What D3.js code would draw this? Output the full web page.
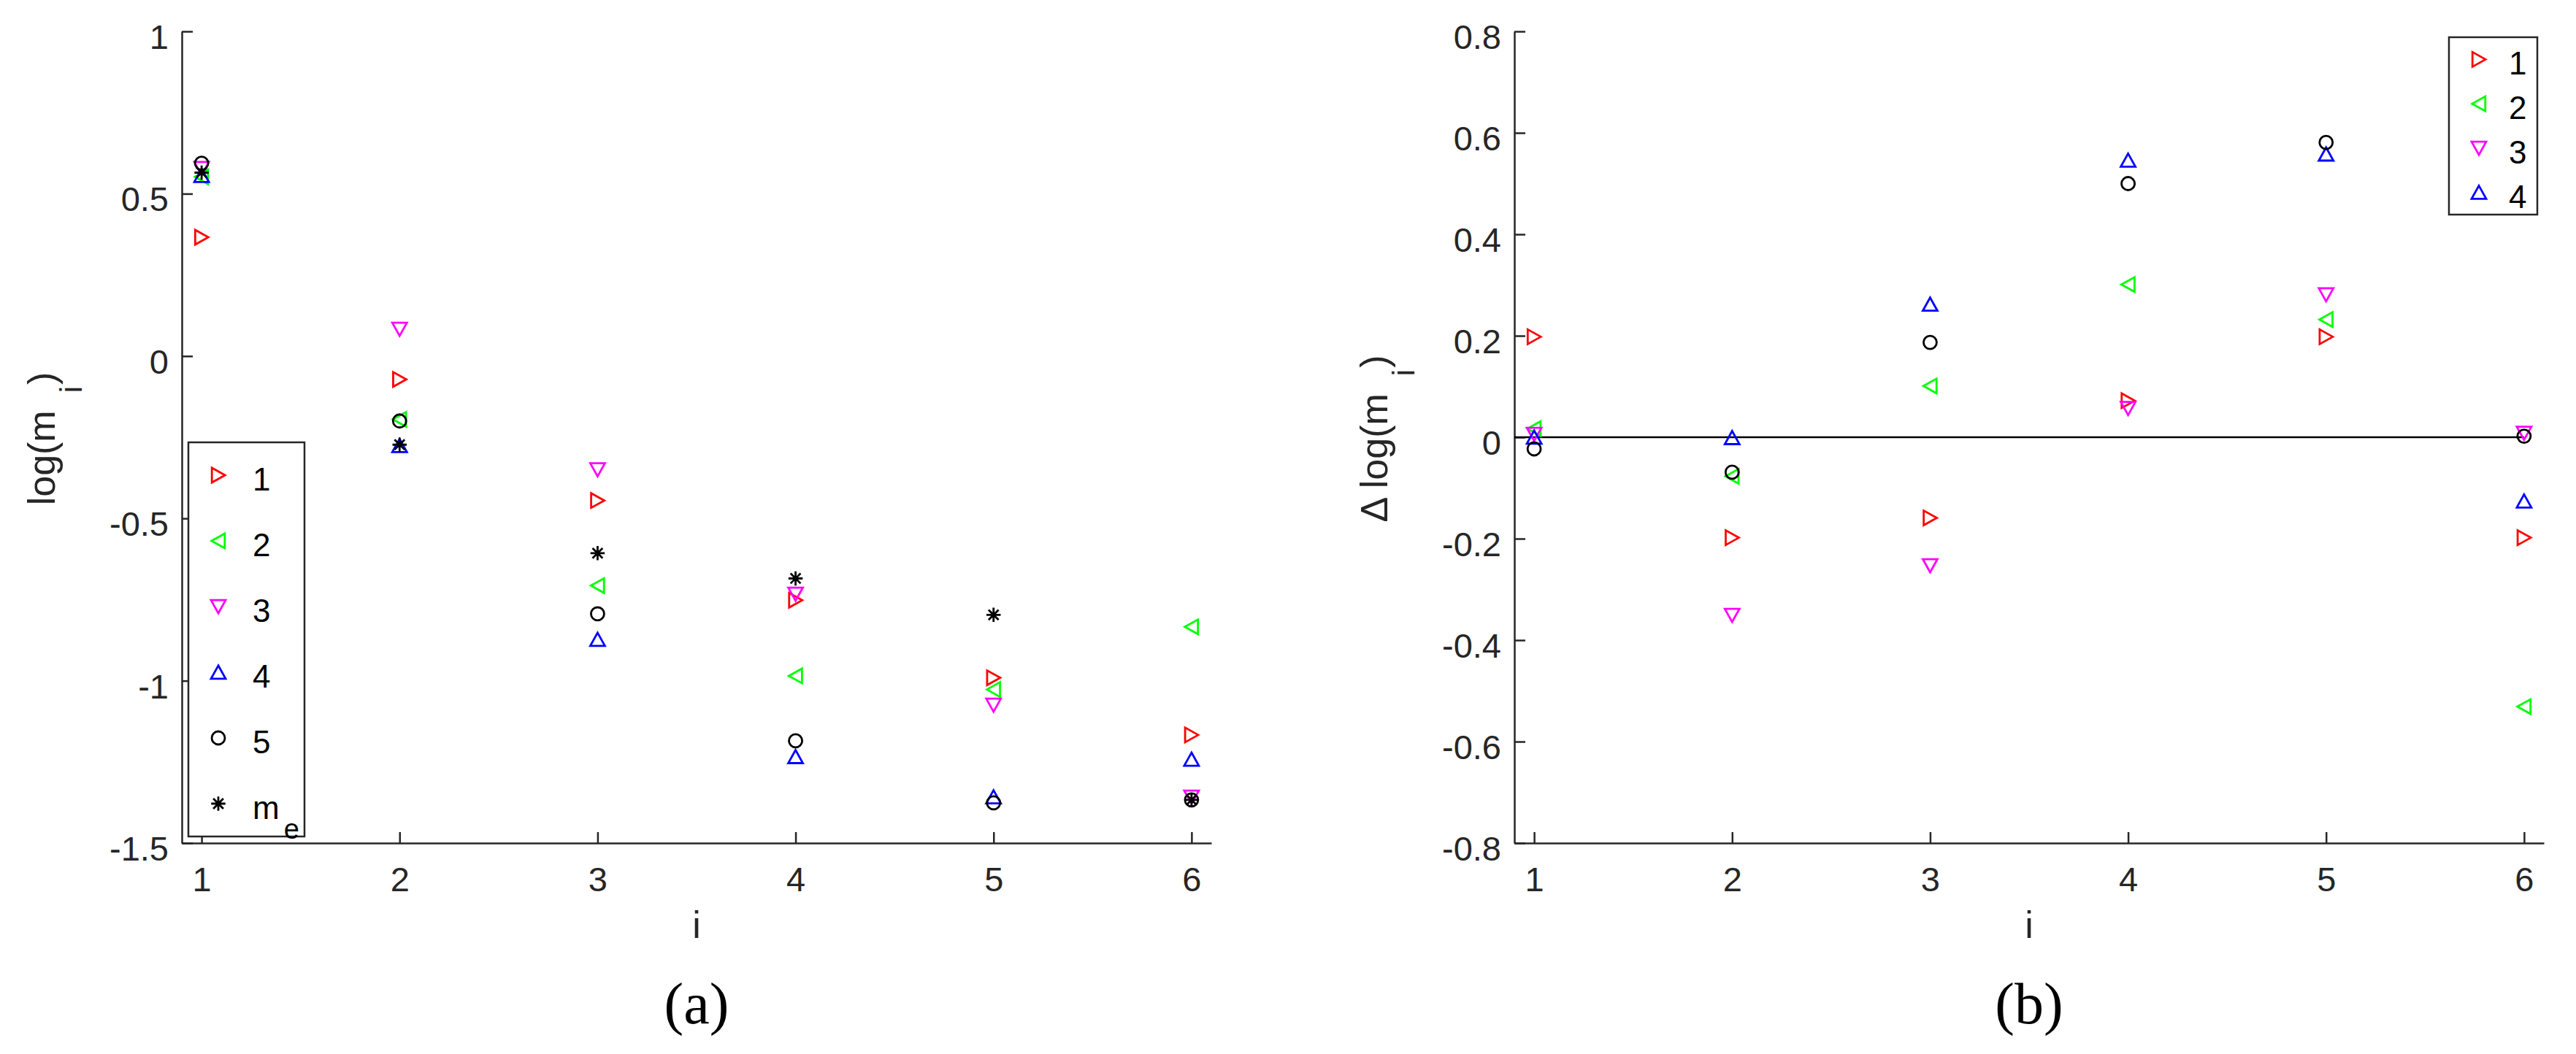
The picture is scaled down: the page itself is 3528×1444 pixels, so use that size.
<!DOCTYPE html>
<html>
<head>
<meta charset="utf-8">
<script src="https://cdn.jsdelivr.net/npm/d3@7"></script>
<style>
  body { margin: 0; background: #fff; }
  svg { display: block; font-family: 'Liberation Sans', Arial, sans-serif; }
  .axis path, .axis line { stroke: #262626; stroke-width: 2.5; }
  .axis text { fill: #262626; font-size: 47px; font-family: 'Liberation Sans', Arial, sans-serif; }
  .axis-title { fill: #262626; font-size: 52px; }
  .panel-tag { fill: #000; font-size: 80px; font-family: 'Liberation Serif', 'Times New Roman', serif; }
  .legend-box { fill: #fff; stroke: #262626; stroke-width: 2.5; }
  .legend-text { fill: #000; font-size: 44px; }
</style>
</head>
<body>
<svg id="chart"></svg>
<script>
// ---- data ----
const iValues = [1, 2, 3, 4, 5, 6];
const xTicks = [1, 2, 3, 4, 5, 6];
const leftYTicks = [-1.5, -1, -0.5, 0, 0.5, 1];
const rightYTicks = [-0.8, -0.6, -0.4, -0.2, 0, 0.2, 0.4, 0.6, 0.8];

// (a) log(m_i)
const logM1 = [0.366, -0.072, -0.445, -0.752, -0.991, -1.167];
const logM2 = [0.552, -0.195, -0.707, -0.985, -1.027, -0.834];
const logM3 = [0.578, 0.083, -0.350, -0.733, -1.075, -1.358];
const logM4 = [0.556, -0.276, -0.873, -1.234, -1.358, -1.242];
const logM5 = [0.594, -0.200, -0.794, -1.185, -1.376, -1.367];
const logMe = [0.565, -0.273, -0.607, -0.685, -0.797, -1.367];

// (b) delta log(m_i)
const dLogM1 = [0.198, -0.198, -0.159, 0.072, 0.198, -0.198];
const dLogM2 = [0.017, -0.077, 0.101, 0.301, 0.232, -0.531];
const dLogM3 = [0.006, -0.351, -0.253, 0.057, 0.281, 0.008];
const dLogM4 = [0.000, -0.001, 0.262, 0.546, 0.558, -0.126];
const dLogM5 = [-0.023, -0.069, 0.187, 0.500, 0.581, 0.002];

const zeroLineI = [0.9, 6];

// ---- marker shapes (matlab style) ----
const triangle = {
  draw(context, size) {
    const s = Math.sqrt(size);
    context.moveTo(0, -0.46 * s);
    context.lineTo(0.5 * s, 0.44 * s);
    context.lineTo(-0.5 * s, 0.44 * s);
    context.closePath();
  }
};
const asterisk = {
  draw(context, size) {
    const r = Math.sqrt(size) / 2, d = r * 0.7071;
    context.moveTo(0, -r); context.lineTo(0, r);
    context.moveTo(-r, 0); context.lineTo(r, 0);
    context.moveTo(-d, -d); context.lineTo(d, d);
    context.moveTo(-d, d); context.lineTo(d, -d);
  }
};
const markers = {
  right:  { type: triangle, size: 400, rotate: 90 },
  left:   { type: triangle, size: 400, rotate: -90 },
  down:   { type: triangle, size: 400, rotate: 180 },
  up:     { type: triangle, size: 400, rotate: 0 },
  circle: { type: d3.symbolCircle, size: 254, rotate: 0 },
  star:   { type: asterisk, size: 380, rotate: 0 }
};

class MarkerChart {

  constructor(_config, series) {
    this.config = {
      parentElement: _config.parentElement,
      left: _config.left,
      top: 43,
      width: 1410,
      height: 1112,
      xDomain: [0.9, 6.1],
      yDomain: _config.yDomain,
      yTicks: _config.yTicks,
      yLabel: _config.yLabel,
      tag: _config.tag,
      legend: _config.legend,
      zeroLine: _config.zeroLine
    };
    this.series = series;
    this.initVis();
  }

  initVis() {
    let vis = this;
    const c = vis.config;

    vis.xScale = d3.scaleLinear().domain(c.xDomain).range([0, c.width]);
    vis.yScale = d3.scaleLinear().domain(c.yDomain).range([c.height, 0]);

    vis.xAxis = d3.axisBottom(vis.xScale)
      .tickValues(xTicks)
      .tickSizeInner(-15)
      .tickSizeOuter(0)
      .tickPadding(33)
      .tickFormat(d => String(d));

    vis.yAxis = d3.axisLeft(vis.yScale)
      .tickValues(c.yTicks)
      .tickSizeInner(-15)
      .tickSizeOuter(0)
      .tickPadding(18)
      .tickFormat(d => String(d));

    vis.chart = d3.select(c.parentElement).append('g')
      .attr('transform', `translate(${c.left},${c.top})`);

    vis.xAxisG = vis.chart.append('g')
      .attr('class', 'axis x-axis')
      .attr('transform', `translate(0,${c.height})`);
    vis.yAxisG = vis.chart.append('g')
      .attr('class', 'axis y-axis');

    // y title, subscript i sits lower (rotated -> to the right)
    const yt = vis.chart.append('text')
      .attr('class', 'axis-title')
      .attr('text-anchor', 'middle')
      .attr('transform', `translate(-174,${c.height / 2 + 2}) rotate(-90)`);
    yt.append('tspan').text(c.yLabel);
    yt.append('tspan').attr('dx', 24).attr('dy', 37).style('font-size', '42px').text('i');
    yt.append('tspan').attr('dx', 2).attr('dy', -37).text(')');

    vis.chart.append('text')
      .attr('class', 'axis-title')
      .attr('text-anchor', 'middle')
      .attr('x', c.width / 2)
      .attr('y', c.height + 130)
      .text('i');

    vis.chart.append('text')
      .attr('class', 'panel-tag')
      .attr('text-anchor', 'middle')
      .attr('x', c.width / 2)
      .attr('y', c.height + 247)
      .text(c.tag);

    vis.renderVis();
  }

  renderVis() {
    let vis = this;
    const c = vis.config;

    if (c.zeroLine) {
      vis.chart.append('line')
        .attr('x1', vis.xScale(zeroLineI[0]))
        .attr('x2', vis.xScale(zeroLineI[1]))
        .attr('y1', vis.yScale(0))
        .attr('y2', vis.yScale(0))
        .attr('stroke', '#000')
        .attr('stroke-width', 2.5);
    }

    // one group per series, plotted in order so later ones sit on top
    vis.series.forEach(s => {
      const m = markers[s.marker];
      vis.chart.append('g').selectAll('path')
        .data(iValues.map((d, k) => ({ i: d, v: s.values[k] })))
        .join('path')
        .attr('d', d3.symbol().type(m.type).size(m.size))
        .attr('transform', d => `translate(${vis.xScale(d.i)},${vis.yScale(d.v)}) rotate(${m.rotate})`)
        .attr('fill', 'none')
        .attr('stroke', s.color)
        .attr('stroke-width', 2.8);
    });

    vis.xAxisG.call(vis.xAxis);
    vis.yAxisG.call(vis.yAxis);
    vis.yAxisG.selectAll('text').attr('dy', '0.5em');

    // legend
    const lg = c.legend;
    const entries = vis.series.filter(s => s.label);
    const rowH = lg.h / entries.length;
    const legendG = vis.chart.append('g')
      .attr('transform', `translate(${lg.x},${lg.y})`);
    legendG.append('rect')
      .attr('class', 'legend-box')
      .attr('width', lg.w)
      .attr('height', lg.h);
    entries.forEach((s, k) => {
      const m = markers[s.marker];
      const cy = (k + 0.5) * rowH;
      legendG.append('path')
        .attr('d', d3.symbol().type(m.type).size(m.size)())
        .attr('transform', `translate(41,${cy}) rotate(${m.rotate})`)
        .attr('fill', 'none')
        .attr('stroke', s.color)
        .attr('stroke-width', 2.8);
      const t = legendG.append('text')
        .attr('class', 'legend-text')
        .attr('x', lg.textX)
        .attr('y', cy + 21);
      t.append('tspan').text(s.label);
      if (s.sub) {
        t.append('tspan').attr('dx', 6).attr('dy', 27).style('font-size', '38px').text(s.sub);
      }
    });
  }
}

d3.select('#chart')
  .attr('width', 3528)
  .attr('height', 1444);

new MarkerChart({
  parentElement: '#chart',
  left: 249,
  yDomain: [-1.5, 1],
  yTicks: leftYTicks,
  yLabel: 'log(m',
  tag: '(a)',
  legend: { x: 9, y: 563, w: 159, h: 540, textX: 88 },
  zeroLine: false
}, [
  { label: '1', marker: 'right', color: '#ff0000', values: logM1 },
  { label: '2', marker: 'left', color: '#00ff00', values: logM2 },
  { label: '3', marker: 'down', color: '#ff00ff', values: logM3 },
  { label: '4', marker: 'up', color: '#0000ff', values: logM4 },
  { label: '5', marker: 'circle', color: '#000000', values: logM5 },
  { label: 'm', sub: 'e', marker: 'star', color: '#000000', values: logMe }
]);

new MarkerChart({
  parentElement: '#chart',
  left: 2074,
  yDomain: [-0.8, 0.8],
  yTicks: rightYTicks,
  yLabel: '\u0394 log(m',
  tag: '(b)',
  legend: { x: 1280, y: 8, w: 121, h: 243, textX: 82 },
  zeroLine: true
}, [
  { label: '1', marker: 'right', color: '#ff0000', values: dLogM1 },
  { label: '2', marker: 'left', color: '#00ff00', values: dLogM2 },
  { label: '3', marker: 'down', color: '#ff00ff', values: dLogM3 },
  { label: '4', marker: 'up', color: '#0000ff', values: dLogM4 },
  { label: null, marker: 'circle', color: '#000000', values: dLogM5 }
]);
</script>
</body>
</html>
